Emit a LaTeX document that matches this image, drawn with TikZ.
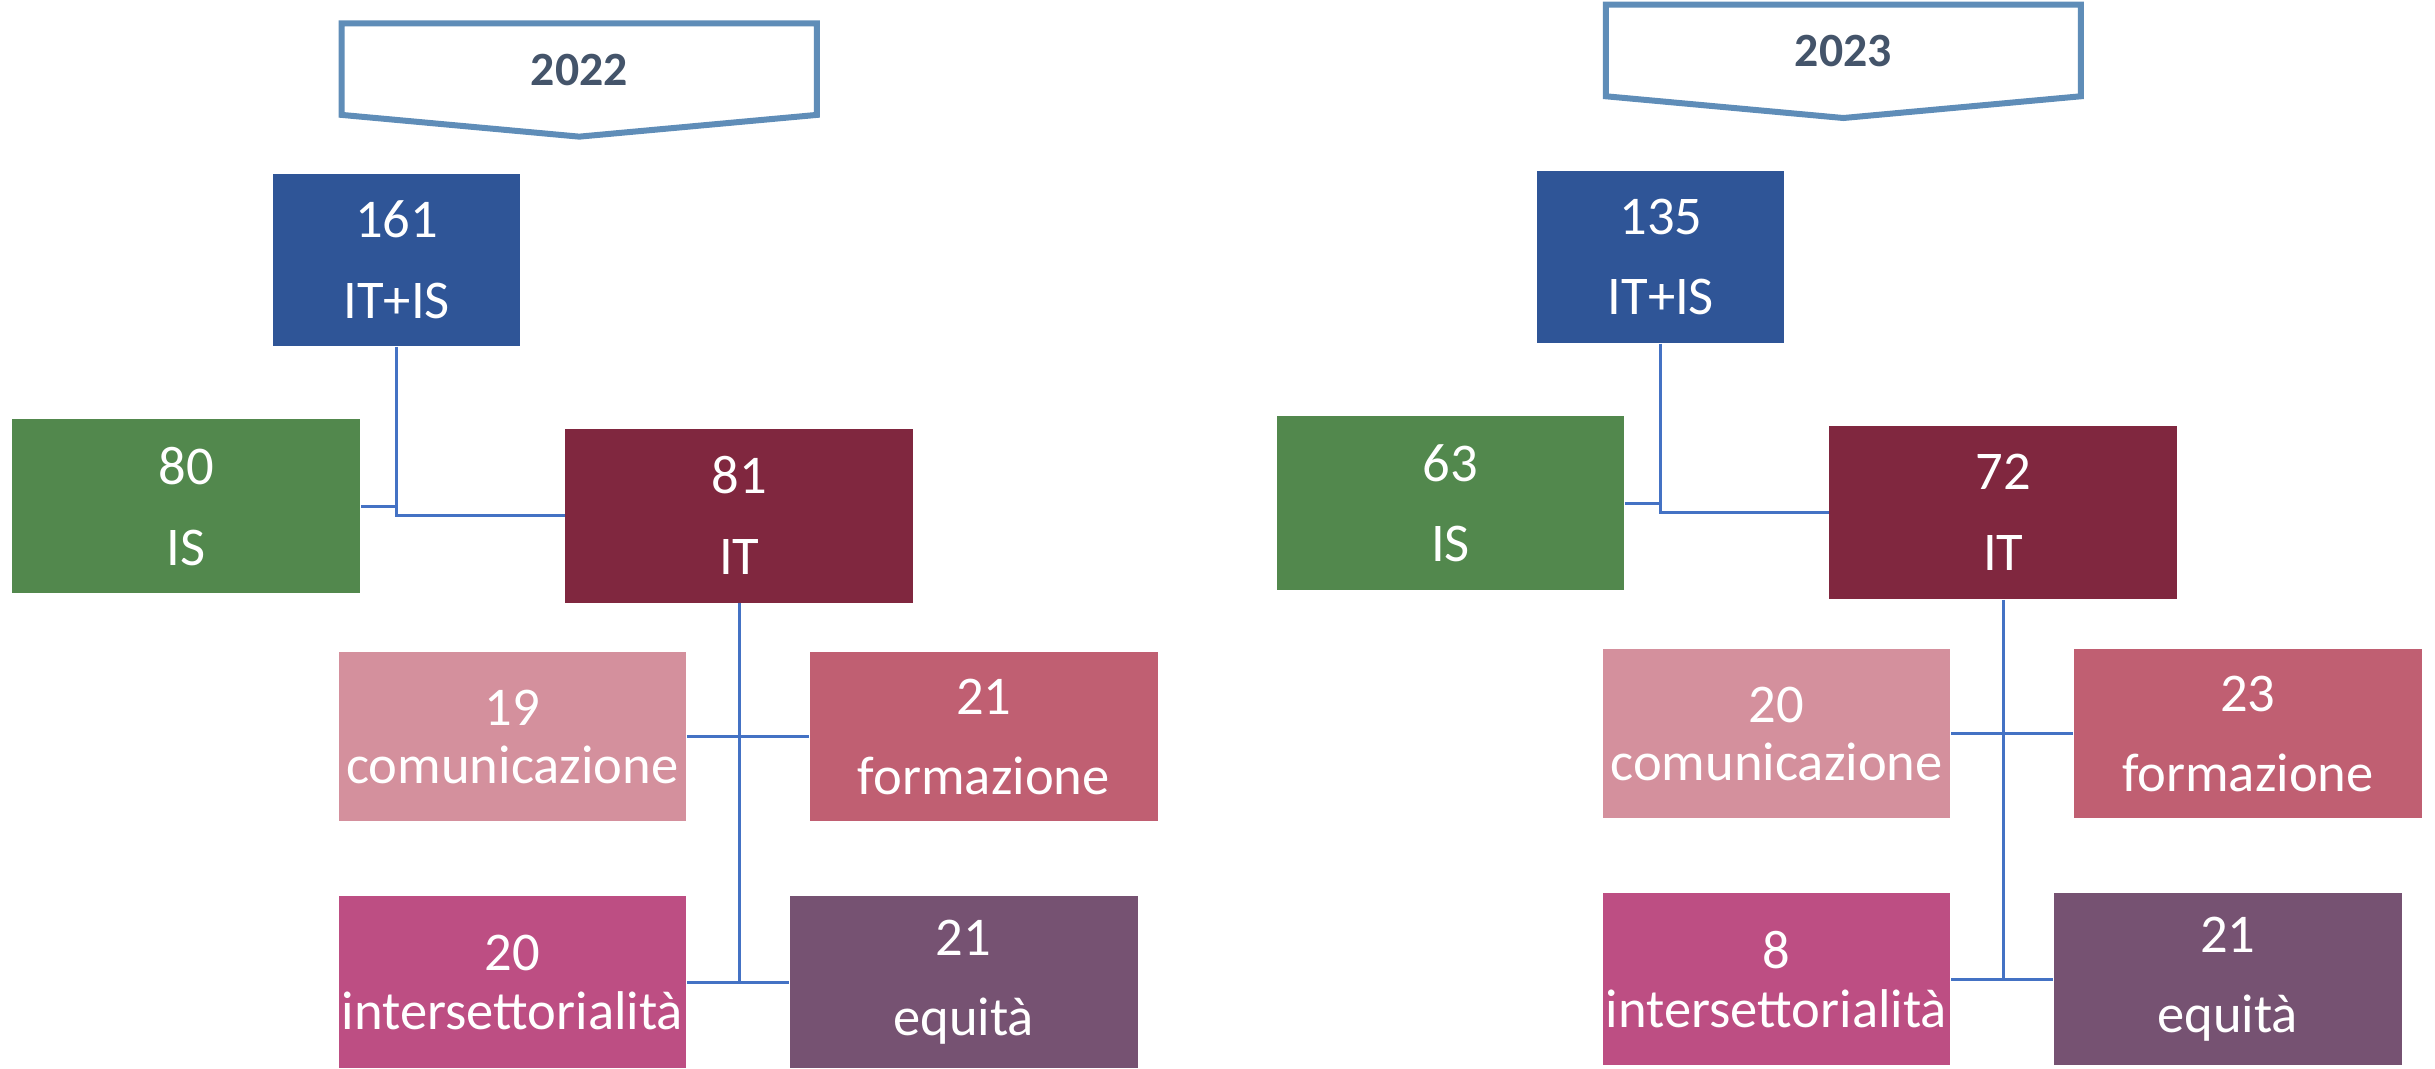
\documentclass[tikz,border=0pt]{standalone}
\usepackage{fontspec}
\setmainfont{Carlito}
\usepackage{xcolor}
\usetikzlibrary{positioning}

\definecolor{totblue}{HTML}{2F5597}
\definecolor{isgreen}{HTML}{52884D}
\definecolor{itred}{HTML}{80273F}
\definecolor{compink}{HTML}{D4909D}
\definecolor{formrose}{HTML}{C05F72}
\definecolor{intmag}{HTML}{BD4E83}
\definecolor{equplum}{HTML}{765272}
\definecolor{linkblue}{HTML}{4472C4}
\definecolor{bannerblue}{HTML}{5F8DB8}
\definecolor{yeartext}{HTML}{44546A}

\begin{document}
\begin{tikzpicture}[
		x=0.02cm, y=-0.02cm,
		every node/.style={font=\fontsize{20}{24}\selectfont},
		box/.style={
				rectangle,
				minimum width=4.48cm,
				minimum height=2.24cm,
				inner sep=0pt,
				align=center,
				text=white
			},
		link/.style={draw=linkblue, line width=1.1pt},
		banner/.style={draw=bannerblue, line width=2.2pt, fill=white}
	]
	\useasboundingbox (0,0) rectangle (1568,688);

	% One chart per year
	\foreach \yr/\dx/\dy/\ay/\vtot/\vis/\vit/\vcom/\vform/\vint/\vequ in {
			2022/0/0/0/161/80/81/19/21/20/21,
			2023/814/-2/-10/135/63/72/20/23/8/21} {
			\begin{scope}[shift={(\dx,\dy)}]
				% Year banner
				\draw[banner] (220,{15+\ay}) -- (526,{15+\ay}) -- (526,{74+\ay})
				-- (373,{88+\ay}) -- (220,{74+\ay}) -- cycle;
				\node[font=\fontsize{17.5}{21}\selectfont\bfseries, text=yeartext] (yr\yr) at (373,{45+\ay}) {\yr};

				% Boxes
				\node[box, fill=totblue, minimum width=3.18cm, minimum height=2.22cm] (tot\yr) at (255.5,167.5) {\vtot\\[5.6pt]IT+IS};
				\node[box, fill=isgreen] (is\yr) at (120,326) {\vis\\[5.6pt]IS};
				\node[box, fill=itred] (it\yr) at (476,332) {\vit\\[5.6pt]IT};
				\node[box, fill=compink, minimum height=2.18cm] (com\yr) at (330,474.5) {\vcom\\[-2.7pt]comunicazione};
				\node[box, fill=formrose, minimum height=2.18cm] (form\yr) at (633.5,474.5) {\vform\\[5.5pt]formazione};
				\node[box, fill=intmag, minimum height=2.22cm] (inter\yr) at (330,632.5) {\vint\\[-2.4pt]intersettorialità};
				\node[box, fill=equplum, minimum height=2.22cm] (equ\yr) at (620.5,632.5) {\vequ\\[5.5pt]equità};

				% Connectors
				\draw[link] (tot\yr.south) |- (it\yr.west);
				\draw[link] (is\yr.east) -- (is\yr.east -| tot\yr.south);
				\draw[link] (it\yr.south) -- (it\yr.south |- inter\yr.east);
				\draw[link] (com\yr.east) -- (form\yr.west);
				\draw[link] (inter\yr.east) -- (equ\yr.west);
			\end{scope}
		}
\end{tikzpicture}
\end{document}
